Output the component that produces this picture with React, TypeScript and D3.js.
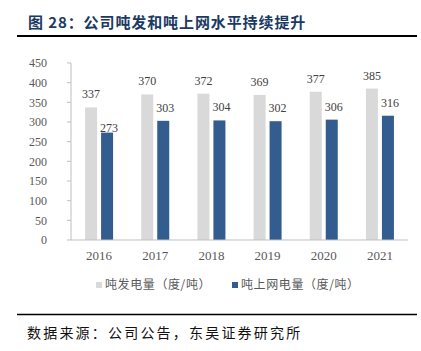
import * as d3 from "d3";

const years = ["2016", "2017", "2018", "2019", "2020", "2021"];
const genPerTon = [337, 370, 372, 369, 377, 385];
const gridPerTon = [273, 303, 304, 302, 306, 316];
const seriesNames = ["吨发电量（度/吨）", "吨上网电量（度/吨）"];
const yTicks = [0, 50, 100, 150, 200, 250, 300, 350, 400, 450];

const W = 421;
const H = 351;
const colors = ["#D9D9D9", "#335C8F"];
const serif = "'Liberation Serif', 'Times New Roman', serif";
const cjk = "'Noto Sans CJK SC', sans-serif";

const App = () => {
  const x = d3.scaleBand<string>().domain(years).range([71, 408]);
  const x1 = d3
    .scaleBand<number>()
    .domain([0, 1])
    .range([-14, 14])
    .paddingInner(0.25);
  const y = d3.scaleLinear().domain([0, 450]).range([240, 63]);

  const series = [genPerTon, gridPerTon];

  return (
    <svg
      width={W}
      height={H}
      style={{ position: "absolute", left: 0, top: 0, background: "#fff" }}
    >
      <text
        x={28}
        y={28}
        fontFamily={cjk}
        fontSize={15}
        fontWeight="bold"
        letterSpacing={0.9}
        fill="#1B3A63"
      >
        图 28：公司吨发和吨上网水平持续提升
      </text>
      <line x1={17} x2={417} y1={36} y2={36} stroke="#000" strokeWidth={1.8} />

      {/* y axis */}
      <line x1={71} x2={71} y1={y(450)} y2={y(0)} stroke="#BFBFBF" />
      {yTicks.map((t) => (
        <g key={t}>
          <line x1={67} x2={71} y1={y(t)} y2={y(t)} stroke="#BFBFBF" />
          <text
            x={47}
            y={y(t)}
            dy="0.35em"
            textAnchor="end"
            fontFamily={serif}
            fontSize={12}
            fill="#595959"
          >
            {t}
          </text>
        </g>
      ))}

      {/* bars */}
      {series.map((vals, s) =>
        vals.map((v, i) => {
          const cx = (x(years[i]) ?? 0) + x.bandwidth() / 2;
          const bx = cx + (x1(s) ?? 0);
          return (
            <g key={`${s}-${i}`}>
              <rect
                x={bx}
                y={y(v)}
                width={x1.bandwidth()}
                height={y(0) - y(v)}
                fill={colors[s]}
              />
              <text
                x={bx + x1.bandwidth() / 2 + (s === 1 ? 2 : 0)}
                y={y(v) - (s === 1 && i === 0 ? 1 : 9)}
                textAnchor="middle"
                fontFamily={serif}
                fontSize={12}
                fill="#404040"
              >
                {v}
              </text>
            </g>
          );
        })
      )}

      {/* x axis */}
      <line x1={71} x2={408} y1={y(0)} y2={y(0)} stroke="#BFBFBF" />
      {years.map((yr) => (
        <text
          key={yr}
          x={(x(yr) ?? 0) + x.bandwidth() / 2}
          y={260}
          textAnchor="middle"
          fontFamily={serif}
          fontSize={13}
          fill="#595959"
        >
          {yr}
        </text>
      ))}

      {/* legend */}
      {seriesNames.map((name, s) => {
        const lx = s === 0 ? 96 : 232;
        return (
          <g key={name}>
            <rect x={lx} y={282} width={6} height={6} fill={colors[s]} />
            <text
              x={lx + 9}
              y={285}
              dy="0.35em"
              fontFamily={cjk}
              fontSize={12}
              letterSpacing={0.6}
              fill="#595959"
            >
              {name}
            </text>
          </g>
        );
      })}

      <line x1={17} x2={417} y1={314.5} y2={314.5} stroke="#000" strokeWidth={1.5} />
      <text
        x={27}
        y={338}
        fontFamily={cjk}
        fontSize={14}
        letterSpacing={2.2}
        fill="#111"
      >
        数据来源：公司公告，东吴证券研究所
      </text>
    </svg>
  );
};

export default App;
